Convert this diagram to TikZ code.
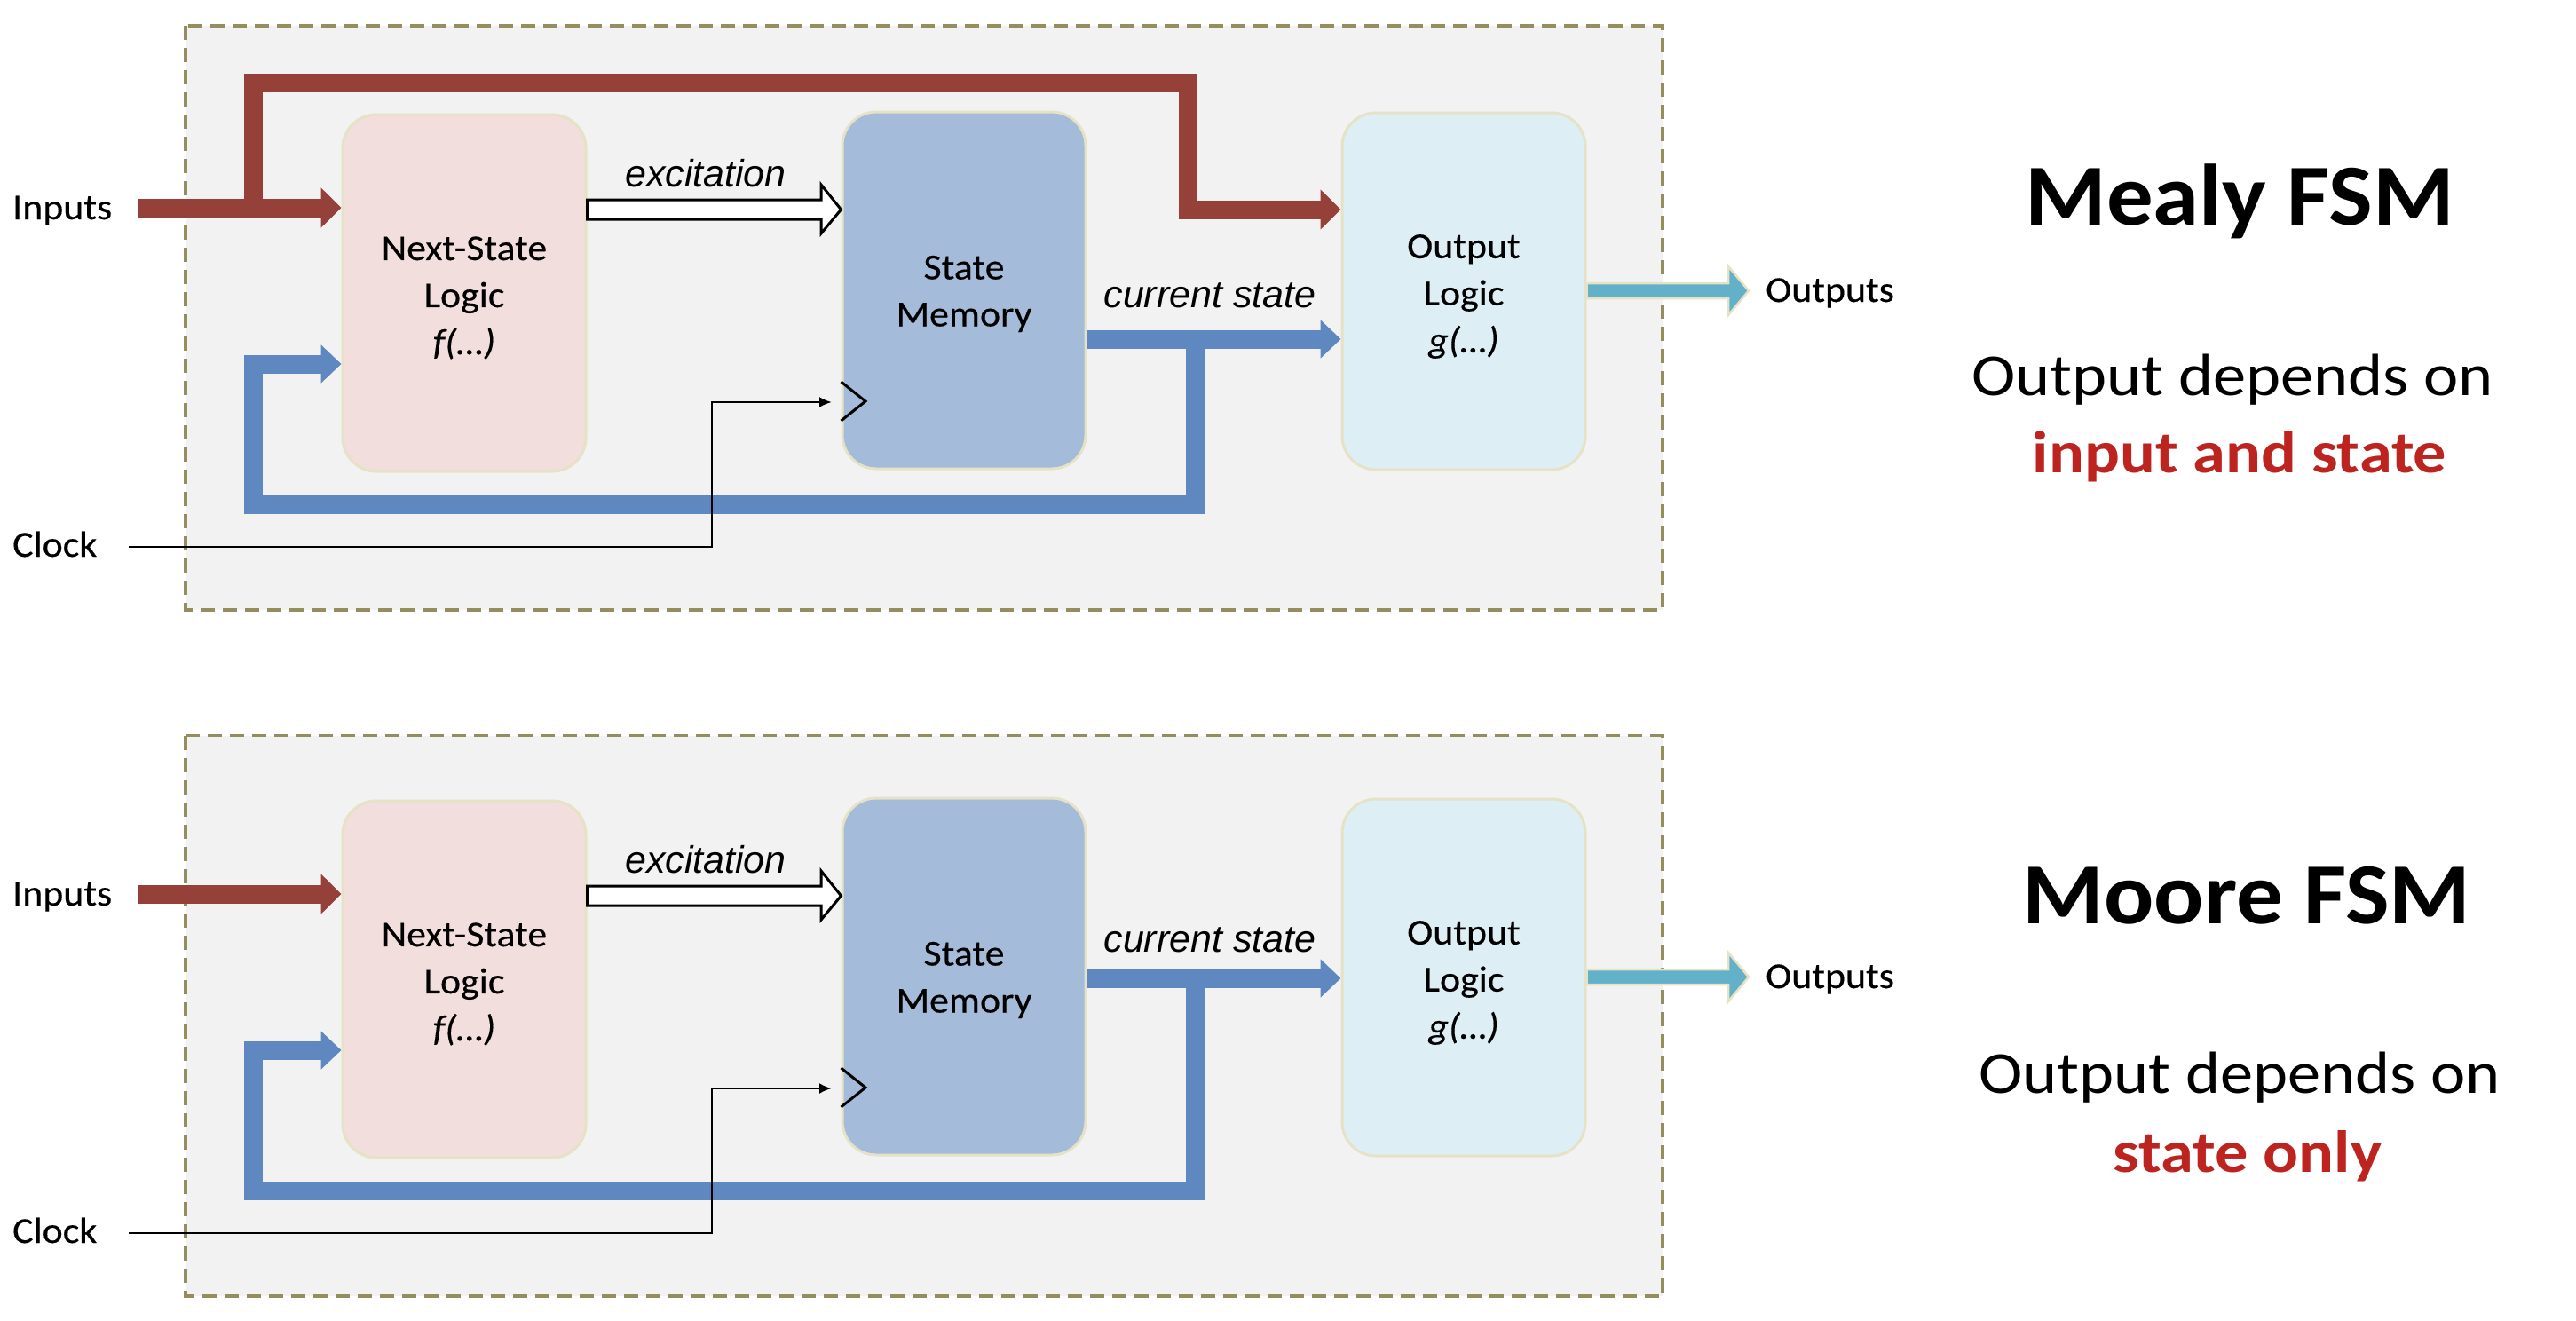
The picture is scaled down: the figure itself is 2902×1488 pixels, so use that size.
\documentclass[tikz,border=0pt]{standalone}
\usepackage{fontspec}
\setmainfont{Carlito}
\newfontfamily\diagfont[FakeStretch=1.07,FakeBold=0.3]{Carlito}
\newfontfamily\titlefont[FakeStretch=1.07]{Carlito}
\newfontfamily\widefont[FakeStretch=1.11]{Carlito}
\newfontfamily\arialfont{Liberation Sans}
\usetikzlibrary{arrows.meta}
\definecolor{panelbg}{HTML}{F2F2F2}
\definecolor{dashc}{HTML}{948E5E}
\definecolor{nsfill}{HTML}{F2DEDD}
\definecolor{smfill}{HTML}{A4BBD9}
\definecolor{olfill}{HTML}{DDEEF4}
\definecolor{boxedge}{HTML}{E6E2C6}
\definecolor{redarrow}{HTML}{96403A}
\definecolor{bluearrow}{HTML}{5F88C0}
\definecolor{tealarrow}{HTML}{62B1C8}
\definecolor{redtext}{HTML}{BD2420}
\tikzset{
 panel/.style={fill=panelbg, draw=dashc, line width=3.5pt, dash pattern=on 16pt off 9pt},
 blk/.style={draw=boxedge, line width=3pt, rounded corners=38pt, minimum width=274pt, minimum height=402pt, inner sep=0pt},
 blktext/.style={inner sep=0pt, align=center, font=\diagfont\fontsize{41}{53}\selectfont, text=black},
 lbl/.style={font=\diagfont\fontsize{41}{50}\selectfont, anchor=base west, inner sep=0pt},
 sig/.style={font=\arialfont\itshape\fontsize{43}{50}\selectfont, anchor=base, inner sep=0pt},
 redarr/.style={draw=redarrow, line width=21pt, -{Triangle[length=23pt,width=44pt]}},
 bluearr/.style={draw=bluearrow, line width=21pt, -{Triangle[length=23pt,width=42pt]}},
 clk/.style={draw=black, line width=2.5pt, -{Latex[length=14pt,width=12pt]}},
 hollow/.style={draw=black, line width=3pt, fill=white, line join=miter},
 outarr/.style={fill=tealarrow, draw=boxedge, line width=2.5pt, line join=miter},
 titletext/.style={font=\titlefont\bfseries\fontsize{98}{110}\selectfont, anchor=base, inner sep=0pt},
 subtext/.style={font=\widefont\fontsize{67}{75}\selectfont, anchor=base, inner sep=0pt},
 keytext/.style={font=\widefont\bfseries\fontsize{67}{75}\selectfont, anchor=base, inner sep=0pt, text=redtext},
}
% #1 suffix, #2 vertical offset, #3 local top of dashed frame,
% #4 local y of current-state arrow, #5 local baseline of its label
\newcommand\fsmpanel[5]{%
\begin{scope}[shift={(0,#2)}]
\path[panel] (209,#3) rectangle (1873,687);
\node[blk, fill=nsfill] (ns#1) at (523,330) {};
\node[blktext] (nst#1) at ([yshift=-5.5pt]ns#1.center) {Next-State\\Logic\\\textit{f(…)}};
\node[blk, fill=smfill] (sm#1) at (1086,327) {};
\node[blktext] (smt#1) at ([yshift=-4pt]sm#1.center) {State\\Memory};
\node[blk, fill=olfill] (ol#1) at (1649,328) {};
\node[blktext] (olt#1) at ([yshift=-6pt]ol#1.center) {Output\\Logic\\\textit{g(…)}};
\node[lbl] (inl#1) at (14,247) {Inputs};
\node[lbl] (clkl#1) at (14,627) {Clock};
\node[lbl] (outl#1) at (1989,340) {Outputs};
\node[sig] (exl#1) at (795,210) {excitation};
\node[sig] (csl#1) at (1363,#5) {current state};
\coordinate (inA#1) at (156,234);
\draw[redarr] (inA#1) -- (inA#1 -| ns#1.west);
\draw[hollow] (ns#1.east |- 0,225) -- (925,225) -- (925,208) -- (sm#1.west |- 0,236) -- (925,263) -- (925,247) -- (ns#1.east |- 0,247) -- cycle;
\coordinate (csA#1) at (sm#1.east |- 0,#4);
\draw[bluearr] (csA#1) -- (csA#1 -| ol#1.west);
\coordinate (fbA#1) at (1346,#4);
\draw[bluearr] (fbA#1) -- (1346,568) -- (285.5,568) -- (285.5,410) -- (ns#1.west |- 0,410);
\coordinate (ck#1) at (145,616);
\draw[clk] (ck#1) -- (802,616) -- (802,453) -- (937,453);
\draw[line width=3pt, line join=miter] (sm#1.west |- 0,430) -- (975,452) -- (sm#1.west |- 0,474);
\draw[outarr] (ol#1.east |- 0,319) -- (1947,319) -- (1947,300) -- (1970,327.5) -- (1947,355) -- (1947,336) -- (ol#1.east |- 0,336) -- cycle;
\end{scope}}
\begin{document}
\begin{tikzpicture}[x=1pt, y=-1pt]
\useasboundingbox (0,0) rectangle (2902,1488);
\fill[white] (0,0) rectangle (2902,1488);
\fsmpanel{a}{0}{29}{382}{346}
\fsmpanel{b}{773}{55.5}{329}{299}
\coordinate (rbA) at (285.5,234);
\draw[redarr] (rbA) |- (1338,93) |- (ola.west |- 0,236);
\node[titletext] (t1) at (2523,253) {Mealy FSM};
\node[subtext] (s1) at (2515,445) {Output depends on};
\node[keytext] (k1) at (2523,532) {input and state};
\node[titletext] (t2) at (2531,1040) {Moore FSM};
\node[subtext] (s2) at (2523,1231) {Output depends on};
\node[keytext] (k2) at (2532,1320) {state only};
\end{tikzpicture}
\end{document}
